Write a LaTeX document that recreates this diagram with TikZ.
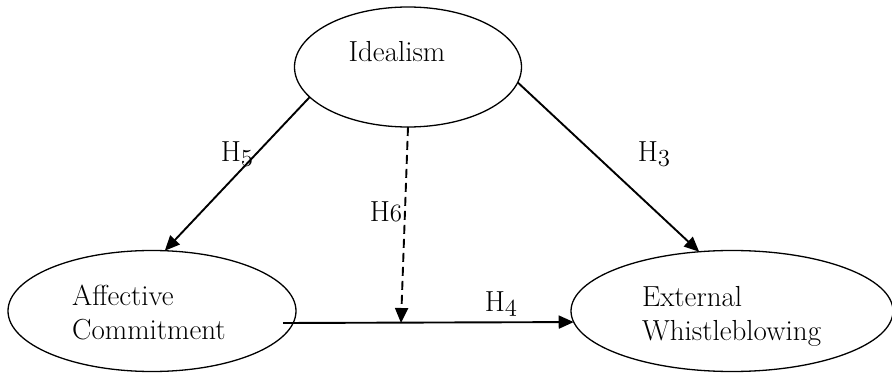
\documentclass[tikz,border=0pt]{standalone}
\usepackage{fontspec}
\setmainfont{Latin Modern Roman}
\usetikzlibrary{shapes.geometric,arrows.meta}
\newcommand\osnum[1]{{\usefont{OML}{cmm}{m}{it}#1}}
\begin{document}
\begin{tikzpicture}[x=1pt,y=-1pt,
  oval/.style={draw,ellipse,line width=1.3pt,inner sep=0pt,outer sep=0pt},
  lbl/.style={inner sep=0pt,anchor=base,font=\fontsize{29}{34}\selectfont},
  txt/.style={inner sep=0pt,align=left,font=\fontsize{29}{34}\selectfont},
  arr/.style={line width=1.9pt,-{Triangle[length=15pt,width=13pt]}},
  darr/.style={arr,dash pattern=on 9pt off 5pt}]
\useasboundingbox (0,0) rectangle (892,374);
\node[oval,minimum width=227pt,minimum height=120pt] (ideal) at (408,67) {};
\node[oval,minimum width=288pt,minimum height=121pt] (aff) at (152,311) {};
\node[oval,minimum width=322pt,minimum height=121pt] (ext) at (732,311) {};
\node[lbl] (tideal) at (397,62) {Idealism};
\node[txt,anchor=base west] (taff) at (72,339) {Affective\\Commitment};
\node[txt,anchor=base west] (text) at (642,340) {External\\Whistleblowing};
\coordinate (h4s) at (283,323);
\coordinate (mid) at (401,323);
\draw[arr] (ideal.197) -- (aff.78);
\draw[arr] (ideal.352) -- (ext.119);
\draw[arr] (h4s) -- (ext.184);
\draw[darr] (ideal.south) -- (mid);
\node[lbl] (h5) at (237,162) {H\osnum{5}};
\node[lbl] (h6) at (386,222) {H\osnum{6}};
\node[lbl] (h3) at (654,162) {H\osnum{3}};
\node[lbl] (h4) at (501,312) {H\osnum{4}};
\end{tikzpicture}
\end{document}
